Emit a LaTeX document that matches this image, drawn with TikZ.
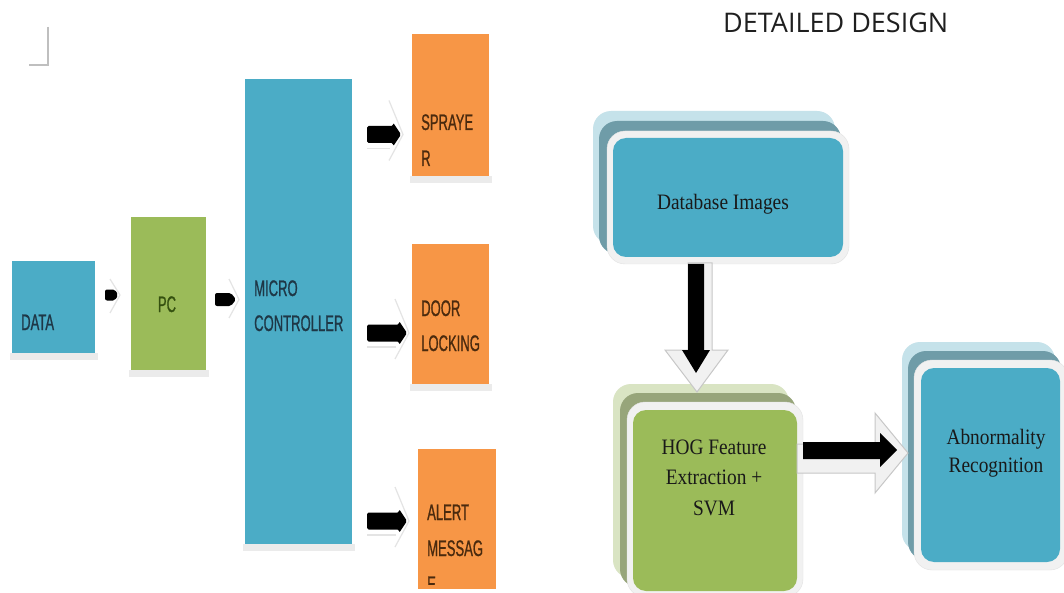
\documentclass[tikz,border=0pt]{standalone}
\usepackage{fontspec}
\newfontfamily\narrowsans[FakeStretch=0.58,FakeBold=0.8]{Liberation Sans}
\newfontfamily\serifc[FakeStretch=0.88]{Liberation Serif}
\newfontfamily\titlefont{Open Sans}
\definecolor{cblue}{HTML}{4BACC6}
\definecolor{cgreen}{HTML}{9BBB59}
\definecolor{corange}{HTML}{F79646}
\definecolor{bluelight}{HTML}{C5E2EA}
\definecolor{bluedark}{HTML}{6F9CA8}
\definecolor{greenlight}{HTML}{D9E4C3}
\definecolor{greendark}{HTML}{97A57A}
\definecolor{rim}{HTML}{F1F1F1}
\definecolor{rimline}{HTML}{E2E2E2}
\definecolor{shadowgray}{HTML}{EBEBEB}
\definecolor{ghostline}{HTML}{E4E4E4}
\definecolor{txtblue}{HTML}{1E3746}
\definecolor{txtgreen}{HTML}{34500F}
\definecolor{txtorange}{HTML}{4A2A0E}
\tikzset{
  lbox/.style={anchor=north west, inner sep=0, outer sep=0},
  ltext/.style={anchor=base west, inner sep=0, font=\narrowsans\fontsize{22.5}{22.5}\selectfont},
  rtext/.style={anchor=base, inner sep=0, text=black!90, font=\serifc\fontsize{22}{22}\selectfont},
  ghost/.style={draw=ghostline, line width=1.2pt, line join=round},
  blockarrow/.style={fill=black, rounded corners=1.5pt},
  shadowarrow/.style={fill=rim, draw=black!22, line width=1pt, line join=miter}
}
\newcommand\myLarrow[3]{% start x, tip x, centre y
  \draw[ghost] (#2-12,#3-34) -- (#2+2,#3) -- (#2-12,#3+26);
  \draw[ghost] (#1,#3+14) -- (#2-11,#3+14);
  \fill[blockarrow] (#1,#3-8.5) -- (#2-8,#3-8.5) -- (#2-8,#3-12) -- (#2,#3) -- (#2-8,#3+12) -- (#2-8,#3+8.5) -- (#1,#3+8.5) -- cycle;}
\begin{document}
\begin{tikzpicture}[x=1pt,y=-1pt]
\useasboundingbox (0,0) rectangle (1064,593);
\fill[white] (0,0) rectangle (1064,593);

% page corner mark
\draw[black!25, line width=1.5pt] (48,27) -- (48,65) -- (29,65);

% ---------- left block diagram ----------
% shadows under boxes
\fill[shadowgray] (10,353) rectangle (98,360);
\fill[shadowgray] (129,370) rectangle (209,377);
\fill[shadowgray] (243,544) rectangle (355,551);
\fill[shadowgray] (410,176) rectangle (492,183);
\fill[shadowgray] (410,384) rectangle (492,391);

\node[lbox, fill=cblue, minimum width=83pt, minimum height=92pt] (data) at (12,261) {};
\node[lbox, fill=cgreen, minimum width=75pt, minimum height=153pt] (pc) at (131,217) {};
\node[lbox, fill=cblue, minimum width=107pt, minimum height=465pt] (mc) at (245,79) {};
\node[lbox, fill=corange, minimum width=77pt, minimum height=142pt] (spr) at (412,34) {};
\node[lbox, fill=corange, minimum width=77pt, minimum height=140pt] (door) at (412,244) {};
\node[lbox, fill=corange, minimum width=78pt, minimum height=140pt] (alert) at (418,449) {};

\node[ltext, text=txtblue] (datat) at (21,330) {DATA};
\node[ltext, text=txtgreen, anchor=base] (pct) at (167,312) {PC};
\node[ltext, text=txtblue] (mct1) at (254,296) {MICRO};
\node[ltext, text=txtblue] (mct2) at (254,331) {CONTROLLER};
\node[ltext, text=txtorange] (sprt1) at (421,130) {SPRAYE};
\node[ltext, text=txtorange] (sprt2) at (421,166) {R};
\node[ltext, text=txtorange] (doort1) at (421,316) {DOOR};
\node[ltext, text=txtorange] (doort2) at (421,351) {LOCKING};
\node[ltext, text=txtorange] (alertt1) at (427,520) {ALERT};
\node[ltext, text=txtorange] (alertt2) at (427,556) {MESSAG};
\begin{scope}
  \clip (418,449) rectangle (496,584);
  \node[ltext, text=txtorange] (alertt3) at (427,592) {E};
\end{scope}

% small arrows
\draw[ghost] (110,279) -- (120,295) -- (110,313);
\fill[blockarrow, rounded corners=2pt] (105,289.5) -- (115,289.5) -- (118,295) -- (115,300.5) -- (105,300.5) -- cycle;
\draw[ghost] (229,279) -- (239,299.5) -- (229,318);
\fill[blockarrow, rounded corners=2pt] (215,293) -- (231,293) -- (236,299.5) -- (231,306) -- (215,306) -- cycle;

% arrows from the micro controller
\myLarrow{367}{401}{134.5}
\myLarrow{367}{407}{333}
\myLarrow{367}{407}{521}

% ---------- right block diagram ----------
\node[anchor=base west, inner sep=0, text=black!88, font=\titlefont\fontsize{27}{27}\selectfont] (title) at (723,33) {DETAILED DESIGN};

% Database Images (stacked box)
\fill[bluelight, rounded corners=18pt] (593,111) rectangle (835,244);
\fill[bluedark, rounded corners=18pt] (599,121) rectangle (841,254);
\filldraw[fill=rim, draw=rimline, rounded corners=18pt] (607,131) rectangle (849,264);
\node[lbox, fill=cblue, rounded corners=13pt, minimum width=230pt, minimum height=119pt] (db) at (613,138) {};
\node[rtext] (dbt) at (723,210) {Database Images};

% HOG Feature Extraction + SVM (stacked box)
\fill[greenlight, rounded corners=18pt] (613,384) rectangle (789,578);
\fill[greendark, rounded corners=18pt] (620,393) rectangle (796,587);
\filldraw[fill=rim, draw=rimline, rounded corners=18pt] (627,402) rectangle (803,597);
\node[lbox, fill=cgreen, rounded corners=13pt, minimum width=164pt, minimum height=181pt] (hog) at (633,410) {};
\node[rtext] (hogt1) at (714,454) {HOG Feature};
\node[rtext] (hogt2) at (714,484) {Extraction +};
\node[rtext] (hogt3) at (714,515) {SVM};

% Abnormality Recognition (stacked box)
\fill[bluelight, rounded corners=18pt] (902,342) rectangle (1055,551);
\fill[bluedark, rounded corners=18pt] (908,351) rectangle (1061,560);
\filldraw[fill=rim, draw=rimline, rounded corners=18pt] (914,360) rectangle (1068,570);
\node[lbox, fill=cblue, rounded corners=13pt, minimum width=139pt, minimum height=194pt] (abn) at (921,368) {};
\node[rtext] (abnt1) at (996,444) {Abnormality};
\node[rtext] (abnt2) at (996,472) {Recognition};

% arrow Database -> HOG
\path[shadowarrow] (688,263) -- (712,263) -- (712,350) -- (728,350) -- (697,392) -- (665,350) -- (688,350) -- cycle;
\fill[black] (688,264) -- (704,264) -- (704,350) -- (710,350) -- (696,373) -- (682,350) -- (688,350) -- cycle;

% arrow HOG -> Abnormality
\path[shadowarrow] (797,444) -- (875,444) -- (875,413) -- (908,453) -- (875,493) -- (875,473) -- (797,473) -- cycle;
\fill[black] (803,442) -- (880,442) -- (880,433) -- (897,450) -- (880,467) -- (880,459) -- (803,459) -- cycle;
\end{tikzpicture}
\end{document}
